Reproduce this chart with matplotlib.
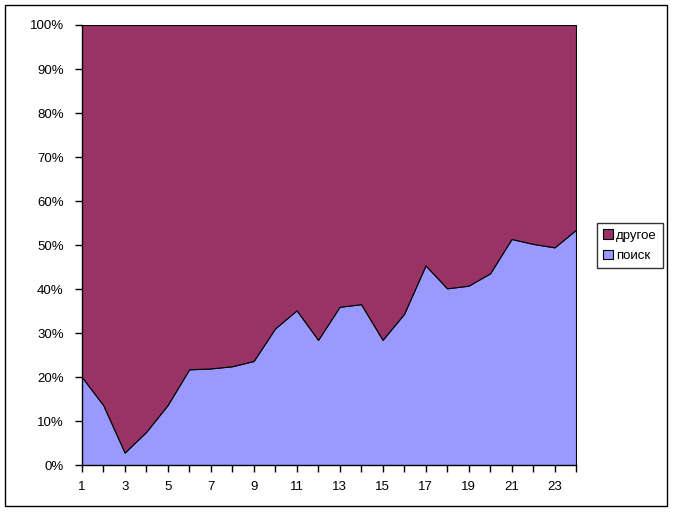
import matplotlib
matplotlib.use("Agg")
import matplotlib.pyplot as plt
from matplotlib.patches import Rectangle
from matplotlib.ticker import FixedLocator, PercentFormatter

plt.rcParams['font.family'] = ['Liberation Sans', 'DejaVu Sans']

hours = list(range(1, 25))
search = [20.1, 13.7, 2.9, 7.6, 13.7, 21.8, 22.0, 22.5, 23.7, 31.1, 35.2, 28.5,
          36.0, 36.6, 28.5, 34.4, 45.4, 40.2, 40.8, 43.6, 51.4, 50.3, 49.5, 53.5]
other = [100 - v for v in search]
labels = ['другое', 'поиск']
colors = {'другое': '#993366', 'поиск': '#9999FF'}

W, H = 673, 512
fig = plt.figure(figsize=(W / 100, H / 100), dpi=100)
fig.patch.set_facecolor('white')
fig.add_artist(Rectangle((5 / W, 6 / H), 662 / W, 501 / H, transform=fig.transFigure,
                         fill=False, edgecolor='black', linewidth=1.0))

left, right, top, bottom = 81.7, 576, 25, 465.3
ax = fig.add_axes([left / W, (H - bottom) / H, (right - left) / W, (bottom - top) / H])

polys = ax.stackplot(hours, search, other,
                     colors=[colors['поиск'], colors['другое']],
                     edgecolor='black', linewidth=0.8,
                     labels=['поиск', 'другое'])
ax.set_xlim(1, 24)
ax.set_ylim(0, 100)
ax.set_facecolor('white')
for s in ['top', 'right']:
    ax.spines[s].set_visible(False)
for s in ['left', 'bottom']:
    ax.spines[s].set_linewidth(1.0)

ax.yaxis.set_major_locator(FixedLocator(range(0, 101, 10)))
ax.yaxis.set_major_formatter(PercentFormatter(decimals=0))
ax.xaxis.set_major_locator(FixedLocator(hours))
ax.set_xticklabels([str(h) if h % 2 == 1 else '' for h in hours])
ax.tick_params(axis='both', direction='out', length=5, width=1, labelsize=9.5, colors='black')
ax.tick_params(axis='y', pad=8)
ax.tick_params(axis='x', pad=6)

handles = [Rectangle((0, 0), 1, 1, facecolor=colors[l], edgecolor='black', linewidth=0.8) for l in labels]
leg = fig.legend(handles, labels, loc='upper left',
                 bbox_to_anchor=(596.7 / W, 1 - 223.3 / H),
                 fontsize=9.5, frameon=True, fancybox=False, edgecolor='black',
                 handlelength=0.75, handleheight=0.75, handletextpad=0.25,
                 borderpad=0.45, labelspacing=0.6, borderaxespad=0)
leg.get_frame().set_linewidth(1.0)

fig.savefig('out.png', dpi=100)
